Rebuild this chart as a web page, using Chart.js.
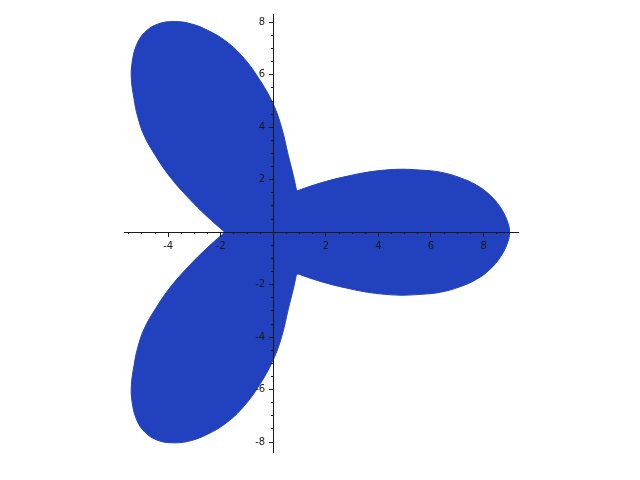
<!DOCTYPE html>
<html>
<head>
<meta charset="utf-8">
<script src="https://cdn.jsdelivr.net/npm/chart.js@4/dist/chart.umd.min.js"></script>
<style>
  html, body { margin: 0; padding: 0; background: #fff; }
  #wrap { width: 640px; height: 480px; }
</style>
</head>
<body>
<div id="wrap"><canvas id="chart" width="640" height="480"></canvas></div>
<script>
// outline of the three-leaf shape as [x, y]
const upperLobe = [
  [0.89, 1.57], [0.76, 2.17], [0.57, 2.93], [0.33, 3.94], [0, 4.88],
  [-0.58, 5.91], [-1.21, 6.74], [-1.84, 7.31], [-2.48, 7.69], [-3.11, 7.94],
  [-3.75, 8.03], [-4.38, 7.94], [-4.89, 7.62], [-5.21, 7.12], [-5.37, 6.48],
  [-5.40, 5.85], [-5.30, 5.09], [-5.17, 4.45], [-4.92, 3.70], [-4.47, 2.90],
  [-3.92, 2.10], [-3.22, 1.30], [-2.52, 0.60], [-1.84, 0]
];
const lowerLobe = [
  [-1.84, 0], [-2.52, -0.60], [-3.22, -1.30], [-3.92, -2.10], [-4.47, -2.90],
  [-4.92, -3.70], [-5.17, -4.45], [-5.30, -5.09], [-5.40, -5.85], [-5.37, -6.48],
  [-5.21, -7.12], [-4.89, -7.62], [-4.38, -7.94], [-3.75, -8.03], [-3.11, -7.94],
  [-2.48, -7.69], [-1.84, -7.31], [-1.21, -6.74], [-0.58, -5.91], [0, -4.86],
  [0.33, -3.94], [0.57, -2.93], [0.76, -2.17], [0.89, -1.57]
];
const rightLobe = [
  [0.89, -1.57], [1.52, -1.79], [2.16, -1.98], [2.79, -2.13], [3.42, -2.26],
  [4.06, -2.35], [4.82, -2.40], [5.58, -2.37], [6.35, -2.29], [7.10, -2.08],
  [7.74, -1.79], [8.25, -1.41], [8.63, -0.96], [8.89, -0.46], [8.99, 0],
  [8.89, 0.46], [8.63, 0.96], [8.25, 1.41], [7.74, 1.79], [7.10, 2.08],
  [6.35, 2.29], [5.58, 2.37], [4.82, 2.40], [4.06, 2.35], [3.42, 2.26],
  [2.79, 2.13], [2.16, 1.98], [1.52, 1.79], [0.89, 1.57]
];
// the three inner corners
const core = [[0.89, 1.57], [-1.84, 0], [0.89, -1.57], [0.89, 1.57]];

const xRange = [-5.68, 9.31];
const yRange = [-8.38, 8.32];
const xMajor = [-4, -2, 2, 4, 6, 8];
const yMajor = [-8, -6, -4, -2, 2, 4, 6, 8];
const xMinor = [-5.5, -5, -4.5, -4, -3.5, -3, -2.5, -2, -1.5, -1, -0.5, 0.5, 1, 1.5,
  2, 2.5, 3, 3.5, 4, 4.5, 5, 5.5, 6, 6.5, 7, 7.5, 8, 8.5, 9];
const yMinor = [-8, -7.5, -7, -6.5, -6, -5.5, -5, -4.5, -4, -3.5, -3, -2.5, -2, -1.5, -1, -0.5,
  0.5, 1, 1.5, 2, 2.5, 3, 3.5, 4, 4.5, 5, 5.5, 6, 6.5, 7, 7.5, 8];

const FILL = '#2141be';
const AXIS = '#1a1a1a';

function pts(list) { return list.map(([x, y]) => ({ x, y })); }

function piece(list, tension, border) {
  return {
    data: pts(list),
    showLine: true,
    fill: 'shape',
    backgroundColor: FILL,
    borderColor: FILL,
    borderWidth: border,
    borderJoinStyle: 'round',
    pointRadius: 0,
    tension: tension,
  };
}

// axes sit on top of the filled shape, crossing at the origin
function axis(range, pos, ticks, len, labels, fmt) {
  return {
    type: 'linear',
    min: range[0],
    max: range[1],
    position: pos,
    afterBuildTicks: (s) => { s.ticks = ticks.map((v) => ({ value: v })); },
    grid: { display: true, drawOnChartArea: false, drawTicks: true, tickLength: len, color: AXIS, z: 1 },
    border: { display: labels, color: AXIS, width: 1, z: 1 },
    ticks: {
      display: labels,
      autoSkip: false,
      maxRotation: 0,
      padding: 4,
      color: AXIS,
      z: 1,
      font: { family: 'DejaVu Sans', size: 10 },
      callback: fmt,
    },
  };
}

// centred y axis right-aligns labels on the axis line, so pad them off it
const xFmt = (v) => String(v);
const yFmt = (v) => String(v) + '\u2002 ';

new Chart(document.getElementById('chart'), {
  type: 'scatter',
  data: {
    datasets: [
      piece(core, 0, 3),
      piece(upperLobe, 0.4, 1),
      piece(lowerLobe, 0.4, 1),
      piece(rightLobe, 0.4, 1),
    ]
  },
  options: {
    responsive: false,
    animation: false,
    layout: { padding: { left: 124, right: 122, top: 14, bottom: 28 } },
    plugins: { legend: { display: false }, tooltip: { enabled: false } },
    scales: {
      xm: axis(xRange, { y: 0 }, xMinor, 2, false, xFmt),
      ym: axis(yRange, { x: 0 }, yMinor, 2, false, yFmt),
      x: axis(xRange, { y: 0 }, xMajor, 4, true, xFmt),
      y: axis(yRange, { x: 0 }, yMajor, 4, true, yFmt),
    }
  }
});
</script>
</body>
</html>
